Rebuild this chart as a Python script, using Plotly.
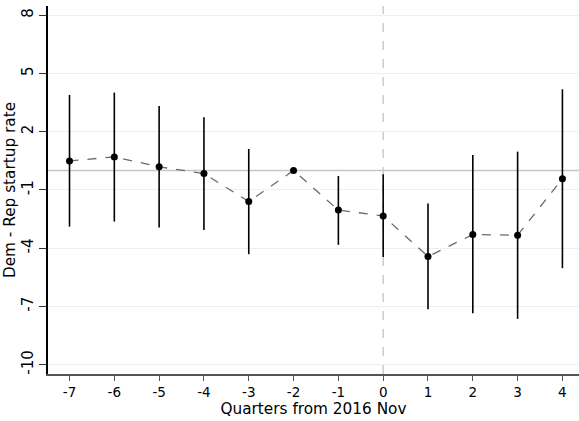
import plotly.graph_objects as go

quarters = [-7, -6, -5, -4, -3, -2, -1, 0, 1, 2, 3, 4]
estimate = [0.49, 0.70, 0.19, -0.16, -1.60, 0.0, -2.04, -2.34, -4.43, -3.30, -3.33, -0.43]
ci_upper = [3.89, 4.01, 3.32, 2.74, 1.11, 0.0, -0.28, -0.19, -1.70, 0.80, 0.97, 4.18]
ci_lower = [-2.89, -2.63, -2.94, -3.06, -4.31, 0.0, -3.83, -4.46, -7.14, -7.35, -7.64, -5.03]
y_ticks = [-10, -7, -4, -1, 2, 5, 8]
x_ticks = [-7, -6, -5, -4, -3, -2, -1, 0, 1, 2, 3, 4]

err_plus = [u - e for u, e in zip(ci_upper, estimate)]
err_minus = [e - l for e, l in zip(estimate, ci_lower)]

FONT = "DejaVu Sans"

fig = go.Figure()
fig.add_trace(go.Scatter(
    x=quarters, y=estimate, mode="lines",
    line=dict(color="#6a6a6a", width=1.3, dash="dash"),
    hoverinfo="skip", showlegend=False,
))
fig.add_trace(go.Scatter(
    x=quarters, y=estimate, mode="markers",
    marker=dict(color="black", size=7),
    error_y=dict(type="data", array=err_plus, arrayminus=err_minus,
                 width=0, thickness=1.6, color="black", visible=True),
    showlegend=False,
))

fig.add_shape(type="line", xref="x", yref="y", x0=0, x1=0, y0=-10.48, y1=8.47,
              line=dict(color="#c4c4c4", width=1.3, dash="dash"), layer="below")
fig.add_shape(type="line", xref="paper", yref="y", x0=0, x1=1, y0=0, y1=0,
              line=dict(color="#c6c6c6", width=1.5), layer="below")

fig.update_layout(
    width=579, height=421,
    margin=dict(l=48, r=0, t=6, b=47),
    paper_bgcolor="white", plot_bgcolor="white",
    font=dict(family=FONT, size=13, color="black"),
    xaxis=dict(
        range=[-7.48, 4.37], tickvals=x_ticks, ticktext=[str(v) for v in x_ticks],
        showgrid=False, zeroline=False,
        showline=True, linecolor="#555555", linewidth=1.5,
        ticks="outside", ticklen=5, tickcolor="#555555",
        tickfont=dict(family=FONT, size=13.5),
        title=dict(text="Quarters from 2016 Nov", font=dict(family=FONT, size=15.3), standoff=0),
    ),
    yaxis=dict(
        range=[-10.48, 8.47], tickvals=y_ticks, ticktext=[str(v) for v in y_ticks],
        tickangle=-90,
        showgrid=True, gridcolor="#eaf1f1", gridwidth=1, zeroline=False,
        showline=True, linecolor="black", linewidth=1.5,
        ticks="outside", ticklen=7, tickcolor="#333333",
        tickfont=dict(family=FONT, size=15),
        title=dict(text="Dem - Rep startup rate", font=dict(family=FONT, size=15.3), standoff=0),
    ),
)

fig.write_html("out.html")
